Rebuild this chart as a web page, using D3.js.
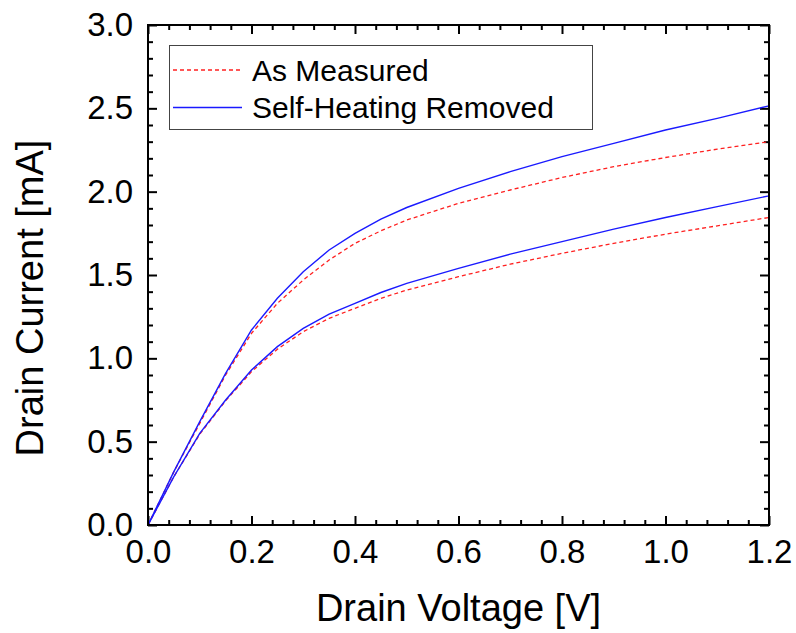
<!DOCTYPE html>
<html>
<head>
<meta charset="utf-8">
<script src="https://cdn.jsdelivr.net/npm/d3@7"></script>
<style>
html,body{margin:0;padding:0;background:#fff;}
svg{display:block;}
text{font-family:"Liberation Sans",Arial,Helvetica,sans-serif;fill:#000;}
</style>
</head>
<body>
<svg id="chart" width="796" height="633"></svg>
<script>
// ---- data ----
const voltage = [0, 0.05, 0.1, 0.15, 0.2, 0.25, 0.3, 0.35, 0.4, 0.45, 0.5, 0.6, 0.7, 0.8, 0.9, 1.0, 1.1, 1.2];
const measuredHigh = [0, 0.32, 0.61, 0.90, 1.15, 1.33, 1.47, 1.59, 1.69, 1.765, 1.83, 1.93, 2.01, 2.085, 2.15, 2.205, 2.255, 2.30];
const removedHigh  = [0, 0.32, 0.62, 0.91, 1.17, 1.36, 1.52, 1.65, 1.75, 1.835, 1.905, 2.02, 2.12, 2.21, 2.29, 2.37, 2.44, 2.515];
const measuredLow  = [0, 0.29, 0.545, 0.745, 0.92, 1.055, 1.16, 1.24, 1.30, 1.36, 1.41, 1.49, 1.565, 1.63, 1.69, 1.745, 1.795, 1.845];
const removedLow   = [0, 0.29, 0.55, 0.75, 0.93, 1.07, 1.18, 1.265, 1.33, 1.395, 1.45, 1.54, 1.625, 1.70, 1.775, 1.845, 1.91, 1.975];
const xTicks = [0, 0.2, 0.4, 0.6, 0.8, 1.0, 1.2];
const yTicks = [0, 0.5, 1.0, 1.5, 2.0, 2.5, 3.0];
const legendLabels = ["As Measured", "Self-Heating Removed"];
const xTitle = "Drain Voltage [V]";
const yTitle = "Drain Current [mA]";

// ---- layout ----
const L = 148, R = 769, T = 25, B = 525;
const svg = d3.select("#chart");
const x = d3.scaleLinear().domain([0, 1.2]).range([L, R]);
const y = d3.scaleLinear().domain([0, 3.0]).range([B, T]);

const xMinor = d3.range(0, 1.2001, 0.04).filter(v => !xTicks.some(t => Math.abs(t - v) < 1e-6));
const yMinor = d3.range(0, 3.0001, 0.1).filter(v => !yTicks.some(t => Math.abs(t - v) < 1e-6));

function styleAxis(g) {
  g.select(".domain").remove();
  g.selectAll(".tick line").attr("stroke", "#000").attr("stroke-width", 2);
  g.selectAll("text").style("font-size", "33px").attr("fill", "#000");
}

// bottom
svg.append("g").attr("transform", `translate(0,${B})`)
  .call(d3.axisBottom(x).tickValues(xTicks).tickFormat(d3.format(".1f")).tickSize(-9).tickSizeOuter(0).tickPadding(15))
  .call(styleAxis);
svg.append("g").attr("transform", `translate(0,${B})`)
  .call(d3.axisBottom(x).tickValues(xMinor).tickFormat("").tickSize(-5).tickSizeOuter(0))
  .call(styleAxis);
// top
svg.append("g").attr("transform", `translate(0,${T})`)
  .call(d3.axisTop(x).tickValues(xTicks).tickFormat("").tickSize(-9).tickSizeOuter(0))
  .call(styleAxis);
svg.append("g").attr("transform", `translate(0,${T})`)
  .call(d3.axisTop(x).tickValues(xMinor).tickFormat("").tickSize(-5).tickSizeOuter(0))
  .call(styleAxis);
// left
svg.append("g").attr("transform", `translate(${L},0)`)
  .call(d3.axisLeft(y).tickValues(yTicks).tickFormat(d3.format(".1f")).tickSize(-9).tickSizeOuter(0).tickPadding(15))
  .call(styleAxis);
svg.append("g").attr("transform", `translate(${L},0)`)
  .call(d3.axisLeft(y).tickValues(yMinor).tickFormat("").tickSize(-5).tickSizeOuter(0))
  .call(styleAxis);
// right
svg.append("g").attr("transform", `translate(${R},0)`)
  .call(d3.axisRight(y).tickValues(yTicks).tickFormat("").tickSize(-9).tickSizeOuter(0))
  .call(styleAxis);
svg.append("g").attr("transform", `translate(${R},0)`)
  .call(d3.axisRight(y).tickValues(yMinor).tickFormat("").tickSize(-5).tickSizeOuter(0))
  .call(styleAxis);

// series
const line = d3.line().x((d, i) => x(voltage[i])).y(d => y(d));
const measuredStyle = {stroke: "#ff2020", width: 1.3, dash: "4,3"};
const removedStyle = {stroke: "#1a1aff", width: 1.4, dash: null};
[measuredHigh, measuredLow].forEach(s => {
  svg.append("path").datum(s).attr("d", line).attr("fill", "none")
    .attr("stroke", measuredStyle.stroke).attr("stroke-width", measuredStyle.width)
    .attr("stroke-dasharray", measuredStyle.dash);
});
[removedHigh, removedLow].forEach(s => {
  svg.append("path").datum(s).attr("d", line).attr("fill", "none")
    .attr("stroke", removedStyle.stroke).attr("stroke-width", removedStyle.width);
});

// frame
svg.append("rect").attr("x", L).attr("y", T).attr("width", R - L).attr("height", B - T)
  .attr("fill", "none").attr("stroke", "#000").attr("stroke-width", 2);

// legend
const lg = svg.append("g");
lg.append("rect").attr("x", 169.5).attr("y", 45.5).attr("width", 423).attr("height", 84)
  .attr("fill", "#fff").attr("stroke", "#444").attr("stroke-width", 1);
const legendStyles = [measuredStyle, removedStyle];
const legendY = [70, 107.5];
legendLabels.forEach((lab, i) => {
  lg.append("line").attr("x1", 173).attr("x2", 242).attr("y1", legendY[i]).attr("y2", legendY[i])
    .attr("stroke", legendStyles[i].stroke).attr("stroke-width", legendStyles[i].width)
    .attr("stroke-dasharray", legendStyles[i].dash);
  lg.append("text").attr("x", 252).attr("y", legendY[i] + 10.5).style("font-size", "30px").text(lab);
});

// titles
svg.append("text").attr("x", (L + R) / 2).attr("y", 621).attr("text-anchor", "middle")
  .style("font-size", "38px").text(xTitle);
svg.append("text").attr("transform", "translate(43,298) rotate(-90)").attr("text-anchor", "middle")
  .style("font-size", "38px").text(yTitle);
</script>
</body>
</html>
